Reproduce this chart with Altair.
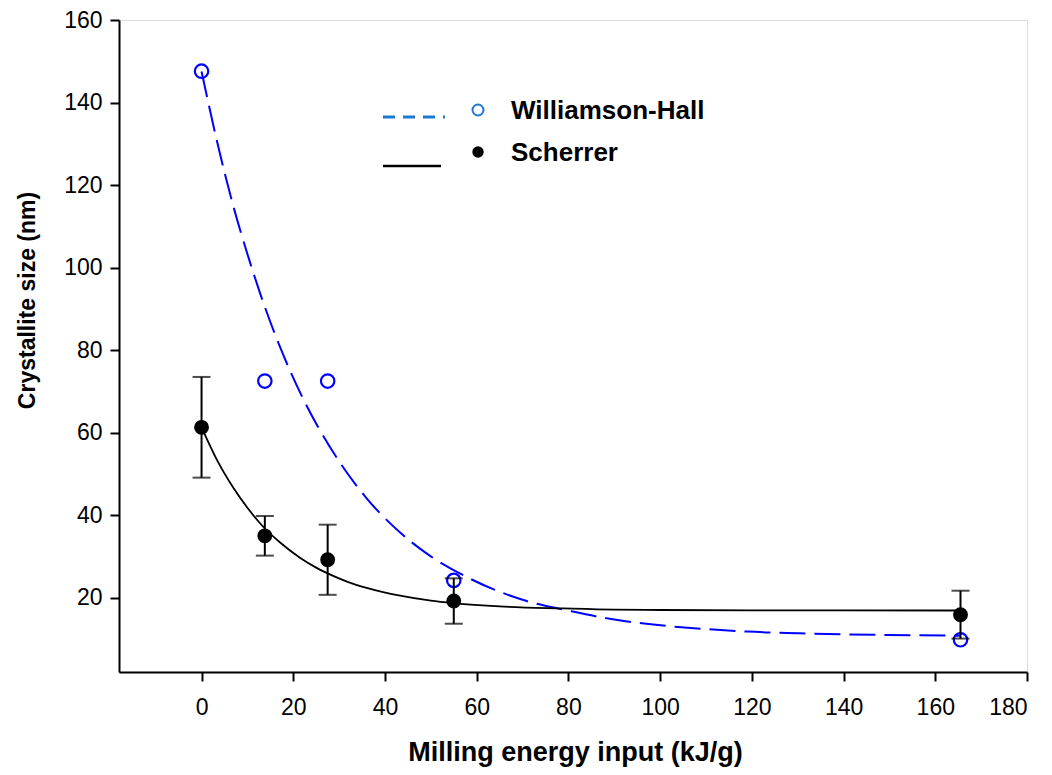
import altair as alt
import pandas as pd

# ---- measured points ----
energy = [0, 13.8, 27.5, 55, 165.5]
scherrer = [61.3, 35.0, 29.2, 19.2, 15.9]
scherrer_err = [12.2, 4.8, 8.5, 5.5, 5.8]
wh = [147.6, 72.5, 72.5, 24.2, 9.8]

# ---- fitted curves ----
wh_fit_x = [0, 3.5, 6.9, 10, 12.7, 17.8, 22.2, 25.1, 30.2, 36, 43.3, 48.6, 58.4, 70, 80.7, 90, 98.5, 110, 119, 130, 141.3, 155, 165.5]
wh_fit_y = [147.5, 130, 115, 103.3, 94, 78.9, 68.1, 62, 52.7, 44.1, 35.8, 31.1, 24.7, 19.5, 16.7, 14.7, 13.5, 12.4, 11.8, 11.4, 11.1, 10.9, 10.8]
sc_fit_x = [0, 3.5, 6.9, 10, 13.45, 17, 21.45, 25, 28.7, 32, 36, 43.3, 50, 55, 65, 78.9, 90, 100, 120, 140, 165.5]
sc_fit_y = [61.3, 53.1, 46.7, 41.8, 37.2, 33.5, 29.7, 27.3, 25.3, 23.8, 22.4, 20.5, 19.3, 18.7, 17.9, 17.4, 17.1, 17.03, 16.94, 16.91, 16.9]

pts = pd.DataFrame({"x": energy, "sc": scherrer, "err": scherrer_err, "wh": wh})
pts["lo"] = pts["sc"] - pts["err"]
pts["hi"] = pts["sc"] + pts["err"]
whfit = pd.DataFrame({"x": wh_fit_x, "y": wh_fit_y})
scfit = pd.DataFrame({"x": sc_fit_x, "y": sc_fit_y})

BLUE = "#0000FF"
LEGBLUE = "#1C78D0"
FONT = "Liberation Sans"

xscale = alt.Scale(domain=[-18, 180], nice=False, zero=False)
yscale = alt.Scale(domain=[2, 160], nice=False, zero=False)

xaxis = alt.Axis(
    title="Milling energy input (kJ/g)", values=list(range(0, 181, 20)),
    grid=False, tickSize=9, tickWidth=2, tickColor="black", domainColor="black", domainWidth=2,
    labelFont=FONT, labelFontSize=23, labelColor="black", labelPadding=15,
    titleFont=FONT, titleFontSize=27, titleFontWeight="bold", titleColor="black",
    titleX=456, titleY=80, titleBaseline="middle", titleAlign="center",
)
yaxis = alt.Axis(
    title="Crystallite size (nm)", values=list(range(20, 161, 20)),
    grid=False, tickSize=9, tickWidth=2, tickColor="black", domainColor="black", domainWidth=2,
    labelFont=FONT, labelFontSize=23, labelColor="black", labelPadding=8,
    titleFont=FONT, titleFontSize=23, titleFontWeight="bold", titleColor="black",
    titleX=-92, titleY=280, titleAngle=270, titleBaseline="middle", titleAlign="center",
)

base = alt.Chart(pts)

wh_line = alt.Chart(whfit).mark_line(color=BLUE, strokeWidth=2, strokeDash=[26, 9], interpolate="monotone").encode(
    x=alt.X("x:Q", scale=xscale, axis=xaxis), y=alt.Y("y:Q", scale=yscale, axis=yaxis))
sc_line = alt.Chart(scfit).mark_line(color="black", strokeWidth=1.8, interpolate="monotone").encode(
    x="x:Q", y="y:Q")

wh_pts = base.mark_point(shape="circle", filled=False, color=BLUE, strokeWidth=2.2, size=180, opacity=1).encode(
    x="x:Q", y="wh:Q")
err_rule = base.mark_rule(color="black", strokeWidth=2).encode(x="x:Q", y="lo:Q", y2="hi:Q")
cap_lo = base.mark_tick(color="black", orient="horizontal", size=18, thickness=2).encode(x="x:Q", y="lo:Q")
cap_hi = base.mark_tick(color="black", orient="horizontal", size=18, thickness=2).encode(x="x:Q", y="hi:Q")
sc_pts = base.mark_point(shape="circle", filled=True, color="black", size=220, opacity=1).encode(
    x="x:Q", y="sc:Q")

# ---- in-plot legend ----
one = pd.DataFrame({"k": [0]})
leg_dash = alt.Chart(one).mark_rule(color=LEGBLUE, strokeWidth=3, strokeDash=[12, 8]).encode(
    x=alt.value(264), x2=alt.value(326), y=alt.value(97))
leg_solid = alt.Chart(one).mark_rule(color="black", strokeWidth=2.5).encode(
    x=alt.value(264), x2=alt.value(322), y=alt.value(146))
leg_open = alt.Chart(one).mark_point(shape="circle", filled=False, color=LEGBLUE, strokeWidth=2, size=120, opacity=1).encode(
    x=alt.value(359), y=alt.value(90))
leg_fill = alt.Chart(one).mark_point(shape="circle", filled=True, color="black", size=130, opacity=1).encode(
    x=alt.value(359), y=alt.value(132))
leg_t1 = alt.Chart(pd.DataFrame({"t": ["Williamson-Hall"]})).mark_text(
    font=FONT, fontSize=26, fontWeight="bold", align="left", baseline="middle", color="black").encode(
    x=alt.value(392), y=alt.value(91), text="t:N")
leg_t2 = alt.Chart(pd.DataFrame({"t": ["Scherrer"]})).mark_text(
    font=FONT, fontSize=26, fontWeight="bold", align="left", baseline="middle", color="black").encode(
    x=alt.value(392), y=alt.value(133), text="t:N")

chart = alt.layer(
    wh_line, sc_line, wh_pts, err_rule, cap_lo, cap_hi, sc_pts,
    leg_dash, leg_solid, leg_open, leg_fill, leg_t1, leg_t2,
).properties(
    width=908, height=652,
    autosize=alt.AutoSizeParams(type="none"),
    padding={"left": 111, "top": 12, "right": 17, "bottom": 95},
).configure_view(stroke="black", strokeWidth=2).configure(background="white")

chart.save("out.html", embed_options={"renderer": "svg", "actions": False})
